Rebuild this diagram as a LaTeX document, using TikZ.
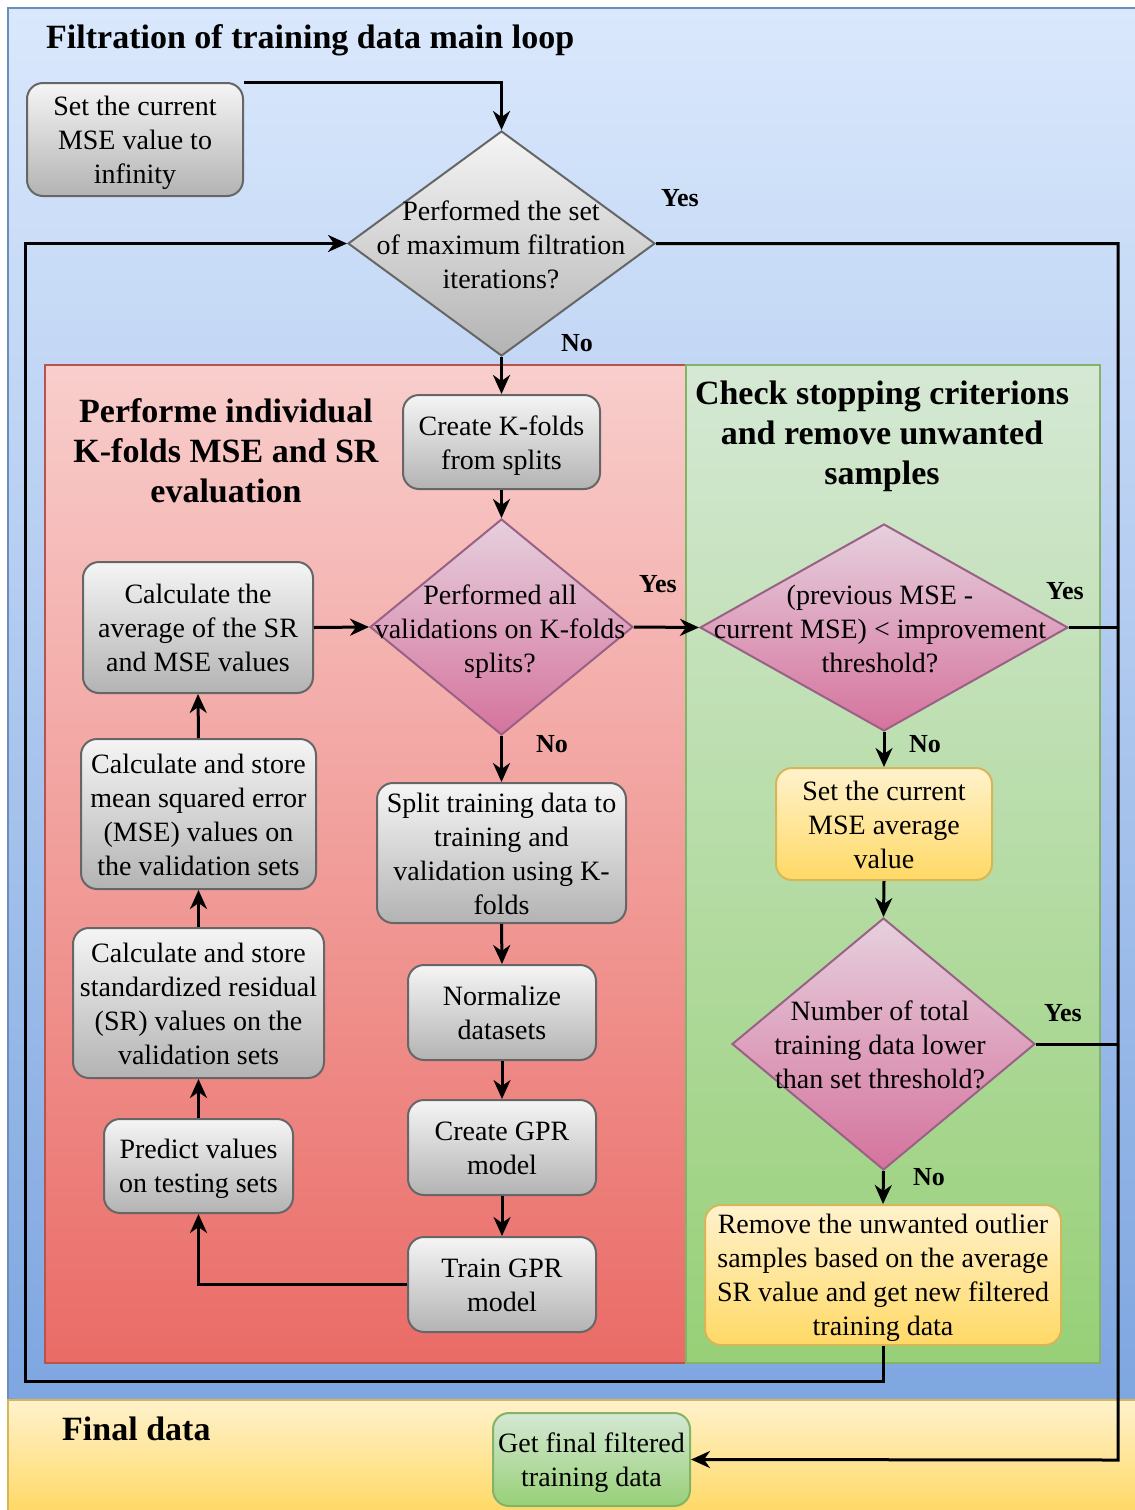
\documentclass[tikz,border=0pt]{standalone}
\usepackage{fontspec}
\setmainfont{Liberation Serif}
\usetikzlibrary{shapes.geometric,arrows.meta}

\definecolor{bluetop}{HTML}{DAE8FC}
\definecolor{bluebot}{HTML}{7EA6E0}
\definecolor{blueedge}{HTML}{6C8EBF}
\definecolor{redtop}{HTML}{F8CECC}
\definecolor{redbot}{HTML}{EA6B66}
\definecolor{rededge}{HTML}{B85450}
\definecolor{greentop}{HTML}{D5E8D4}
\definecolor{greenbot}{HTML}{97D077}
\definecolor{greenedge}{HTML}{82B366}
\definecolor{yellowtop}{HTML}{FFF2CC}
\definecolor{yellowbot}{HTML}{FFD966}
\definecolor{yellowedge}{HTML}{D6B656}
\definecolor{graytop}{HTML}{F5F5F5}
\definecolor{graybot}{HTML}{B3B3B3}
\definecolor{grayedge}{HTML}{666666}
\definecolor{pinktop}{HTML}{E6D0DE}
\definecolor{pinkbot}{HTML}{D5739D}
\definecolor{pinkedge}{HTML}{996185}

% fixed first-line height so every text block sits at the same offset
\newcommand{\topstrut}{\rule{0pt}{26pt}}

\tikzset{
  bodyfont/.style={font=\fontsize{28}{34}\selectfont},
  titlefont/.style={font=\bfseries\fontsize{34}{40}\selectfont},
  answer/.style={font=\bfseries\fontsize{26}{30}\selectfont, inner sep=0pt},
  container/.style={line width=2pt},
  procbox/.style={rectangle, rounded corners=16pt, line width=2pt, inner sep=0pt,
    align=center, bodyfont,
    execute at end node={\rule[-6pt]{0pt}{6pt}}},
  grayproc/.style={procbox, draw=grayedge, top color=graytop, bottom color=graybot},
  yellowproc/.style={procbox, draw=yellowedge, top color=yellowtop, bottom color=yellowbot},
  greenproc/.style={procbox, draw=greenedge, top color=greentop, bottom color=greenbot},
  decision/.style={diamond, inner sep=0pt, line width=2pt},
  graydecision/.style={decision, draw=grayedge, top color=graytop, bottom color=graybot},
  pinkdecision/.style={decision, draw=pinkedge, top color=pinktop, bottom color=pinkbot},
  decisiontext/.style={align=center, inner sep=0pt, bodyfont},
  flow/.style={line width=3pt, black},
  arr/.style={flow, -{Stealth[length=19pt, width=17pt, inset=6pt]}},
}

\begin{document}
\begin{tikzpicture}[x=1pt, y=-1pt]
\useasboundingbox (0,0) rectangle (1135,1510);

% swimlanes
\draw[container, draw=blueedge, top color=bluetop, bottom color=bluebot]
  (8,8) rectangle (1137,1400);
\draw[container, draw=yellowedge, top color=yellowtop, bottom color=yellowbot]
  (8,1400) rectangle (1137,1512);
\draw[container, draw=rededge, top color=redtop, bottom color=redbot]
  (45,365) rectangle (686,1363);
\draw[container, draw=greenedge, top color=greentop, bottom color=greenbot]
  (686,365) rectangle (1100,1363);

% lane titles
\node[titlefont, anchor=west, inner sep=0pt] (tmain) at (46,40) {Filtration of training data main loop};
\node[titlefont, align=center, inner sep=0pt] (tkfold) at (226,451) {Performe individual\\K-folds MSE and SR\\evaluation};
\node[titlefont, align=center, inner sep=0pt] (tstop) at (882,436) {Check stopping criterions\\and remove unwanted\\samples};
\node[titlefont, anchor=west, inner sep=0pt] (tfinal) at (62,1429) {Final data};

% main loop
\node[grayproc, minimum width=216pt, minimum height=113pt] (setinf) at (135,139.5)
  {\topstrut Set the current\\MSE value to\\infinity};
\node[graydecision, minimum width=307pt, minimum height=225pt] (d1) at (501.5,243.5) {};
\node[decisiontext] (d1t) at (501,245) {Performed the set\\of maximum filtration\\iterations?};

% K-folds evaluation
\node[grayproc, minimum width=197pt, minimum height=94pt] (kfolds) at (501.5,442)
  {\topstrut Create K-folds\\from splits};
\node[pinkdecision, minimum width=263pt, minimum height=216pt] (d2) at (501.5,627) {};
\node[decisiontext] (d2t) at (500,632) {Performed all\\validations on K-folds\\splits?};
\node[grayproc, minimum width=249pt, minimum height=140pt] (split) at (501.5,853)
  {\topstrut Split training data to\\training and\\validation using K-\\folds};
\node[grayproc, minimum width=188pt, minimum height=95pt] (norm) at (502,1012.5)
  {\topstrut Normalize\\datasets};
\node[grayproc, minimum width=188pt, minimum height=95pt] (cgpr) at (502,1147.5)
  {\topstrut Create GPR\\model};
\node[grayproc, minimum width=188pt, minimum height=95pt] (train) at (502,1284.5)
  {\topstrut Train GPR\\model};
\node[grayproc, minimum width=189pt, minimum height=94pt] (predict) at (198.5,1166)
  {\topstrut Predict values\\on testing sets};
\node[grayproc, minimum width=251pt, minimum height=150pt] (calcsr) at (198.5,1003)
  {\topstrut Calculate and store\\standardized residual\\(SR) values on the\\validation sets};
\node[grayproc, minimum width=235pt, minimum height=150pt] (calcmse) at (198.5,814)
  {\topstrut Calculate and store\\mean squared error\\(MSE) values on\\the validation sets};
\node[grayproc, minimum width=230pt, minimum height=131pt] (avg) at (198,627.5)
  {\topstrut Calculate the\\average of the SR\\and MSE values};

% stopping criteria
\node[pinkdecision, minimum width=368pt, minimum height=207pt] (d3) at (884,627.5) {};
\node[decisiontext] (d3t) at (880,629) {(previous MSE -\\current MSE) < improvement\\threshold?};
\node[yellowproc, minimum width=216pt, minimum height=112pt] (setavg) at (884,824)
  {\topstrut Set the current\\MSE average\\value};
\node[pinkdecision, minimum width=303pt, minimum height=252pt] (d4) at (883.5,1044) {};
\node[decisiontext] (d4t) at (880,1045) {Number of total\\training data lower\\than set threshold?};
\node[yellowproc, minimum width=356pt, minimum height=140pt] (remove) at (883,1275)
  {\topstrut Remove the unwanted outlier\\samples based on the average\\SR value and get new filtered\\training data};

% final data
\node[greenproc, minimum width=197pt, minimum height=93pt] (final) at (591.5,1459.5)
  {\topstrut Get final filtered\\training data};

% routing points
\coordinate (loopcorner) at (25,1381);
\coordinate (railend) at (1118,1460);

% connectors
\draw[arr] (setinf.north east) -| (d1.north);
\draw[arr] (d1.south) -- (kfolds.north);
\draw[arr] (kfolds.south) -- (d2.north);
\draw[arr] (d2.east) -- (d3.west);
\draw[arr] (d2.south) -- (split.north);
\draw[arr] (split.south) -- (norm.north);
\draw[arr] (norm.south) -- (cgpr.north);
\draw[arr] (cgpr.south) -- (train.north);
\draw[arr] (train.west) -| (predict.south);
\draw[arr] (predict.north) -- (calcsr.south);
\draw[arr] (calcsr.north) -- (calcmse.south);
\draw[arr] (calcmse.north) -- (avg.south);
\draw[arr] (avg.east) -- (d2.west);
\draw[arr] (d3.south) -- (setavg.north);
\draw[arr] (setavg.south) -- (d4.north);
\draw[arr] (d4.south) -- (remove.north);
\draw[arr] (remove.south) |- (loopcorner) |- (d1.west);
\draw[arr] (d1.east) -| (railend) -- (final.east);
\draw[flow] (d3.east) -- (d3.east -| railend);
\draw[flow] (d4.east) -- (d4.east -| railend);

% branch labels
\node[answer] (y1) at (680,198) {Yes};
\node[answer] (n1) at (577,343) {No};
\node[answer] (y2) at (658,584) {Yes};
\node[answer] (n2) at (552,744) {No};
\node[answer] (y3) at (1065,591) {Yes};
\node[answer] (n3) at (925,744) {No};
\node[answer] (y4) at (1063,1013) {Yes};
\node[answer] (n4) at (929,1177) {No};
\end{tikzpicture}
\end{document}
